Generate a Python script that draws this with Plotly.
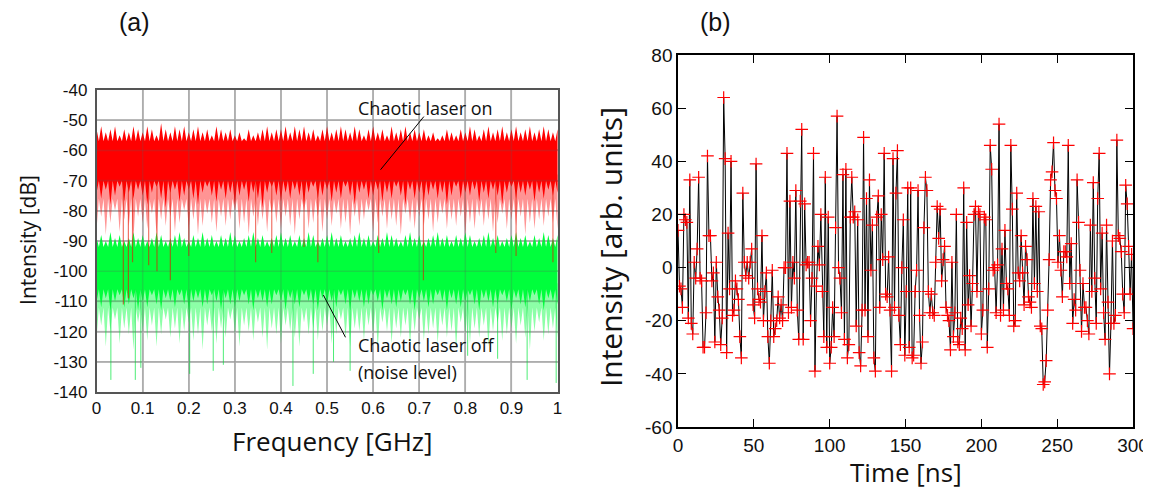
import plotly.graph_objects as go

# ---------------- Panel (a): spectrum envelopes ----------------
freq_step = 0.01  # GHz, sampling of envelope readings
red_hi = [-53,-52,-54,-53,-52,-55,-53,-54,-52,-53,
 -54,-52,-53,-55,-51,-53,-54,-52,-53,-52,
 -54,-53,-52,-54,-53,-55,-52,-53,-54,-53,
 -55,-54,-56,-53,-55,-54,-53,-52,-54,-53,
 -53,-52,-54,-52,-53,-52,-54,-53,-55,-53,
 -52,-54,-53,-52,-53,-54,-52,-53,-55,-53,
 -52,-54,-53,-55,-52,-54,-53,-52,-54,-53,
 -54,-53,-55,-54,-56,-55,-53,-54,-55,-53,
 -54,-52,-53,-55,-53,-52,-54,-53,-52,-54,
 -53,-52,-54,-53,-52,-54,-53,-52,-53,-54,-53]
red_mid = [-74,-76,-73,-78,-75,-72,-77,-74,-76,-73,
 -75,-78,-74,-72,-76,-79,-74,-73,-77,-75,
 -73,-76,-78,-74,-72,-75,-77,-73,-76,-74,
 -78,-75,-73,-77,-74,-76,-79,-74,-72,-75,
 -77,-74,-76,-73,-75,-78,-74,-72,-76,-75,
 -73,-77,-74,-76,-72,-75,-78,-74,-73,-76,
 -75,-73,-77,-74,-76,-72,-75,-78,-73,-76,
 -74,-77,-75,-73,-76,-74,-78,-75,-72,-76,
 -74,-75,-73,-77,-74,-76,-73,-75,-78,-74,
 -72,-76,-74,-75,-73,-77,-74,-76,-73,-75,-74]
red_lo = [-86,-82,-88,-84,-80,-87,-83,-85,-89,-82,
 -84,-86,-81,-88,-83,-85,-82,-87,-84,-80,
 -86,-83,-88,-85,-81,-84,-87,-82,-85,-83,
 -80,-86,-84,-88,-82,-85,-83,-87,-81,-84,
 -86,-82,-85,-88,-83,-80,-86,-84,-82,-87,
 -83,-85,-81,-86,-84,-88,-82,-85,-83,-80,
 -87,-84,-82,-86,-83,-85,-88,-81,-84,-86,
 -82,-85,-83,-87,-84,-81,-86,-83,-85,-82,
 -88,-84,-86,-82,-85,-83,-87,-84,-81,-86,
 -83,-85,-82,-88,-84,-86,-83,-85,-82,-84,-86]
green_hi = [-89,-88,-90,-87,-89,-88,-90,-89,-87,-89,
 -88,-90,-89,-87,-88,-90,-89,-88,-87,-89,
 -90,-88,-89,-87,-89,-88,-90,-88,-89,-87,
 -88,-90,-89,-88,-87,-89,-88,-90,-89,-88,
 -87,-89,-88,-90,-88,-89,-87,-88,-90,-89,
 -88,-87,-89,-88,-90,-89,-88,-87,-89,-88,
 -90,-88,-89,-87,-88,-89,-90,-88,-87,-89,
 -88,-90,-89,-88,-87,-89,-88,-90,-88,-89,
 -87,-88,-90,-89,-88,-87,-89,-88,-90,-89,
 -88,-87,-89,-88,-90,-88,-89,-87,-88,-89,-88]
green_mid = [-110,-112,-109,-113,-110,-108,-112,-111,-109,-113,
 -110,-112,-108,-111,-113,-109,-110,-112,-108,-111,
 -113,-110,-109,-112,-111,-108,-110,-113,-109,-111,
 -112,-110,-108,-111,-113,-109,-110,-112,-111,-108,
 -110,-113,-109,-111,-112,-108,-110,-111,-113,-109,
 -111,-110,-112,-108,-111,-113,-109,-110,-112,-111,
 -108,-110,-113,-109,-111,-112,-110,-108,-111,-113,
 -109,-110,-112,-111,-108,-110,-113,-109,-111,-112,
 -110,-108,-111,-113,-109,-110,-112,-111,-108,-110,
 -113,-109,-111,-112,-110,-108,-111,-113,-109,-110,-111]
green_lo = [-122,-118,-125,-120,-116,-124,-119,-121,-126,-117,
 -120,-123,-118,-125,-121,-116,-122,-119,-124,-120,
 -117,-123,-121,-126,-118,-120,-124,-119,-122,-116,
 -121,-125,-118,-120,-123,-117,-122,-126,-119,-121,
 -124,-118,-120,-122,-125,-117,-121,-119,-123,-120,
 -118,-124,-121,-116,-122,-125,-119,-120,-123,-118,
 -121,-126,-117,-120,-124,-119,-122,-118,-125,-120,
 -116,-123,-121,-119,-124,-118,-122,-120,-126,-117,
 -121,-124,-119,-122,-118,-125,-120,-117,-123,-121,
 -119,-124,-118,-122,-126,-120,-117,-123,-121,-119,-122]
# band body levels (dB)
red_top_base, red_bot_base, red_pink_base = -57, -70, -76
green_top_base, green_bot_base, green_light_base = -92, -106, -112
# deep isolated dips
red_spike_f = [0.058, 0.069, 0.078, 0.113, 0.131, 0.160, 0.200, 0.345, 0.380, 0.450, 0.480, 0.612, 0.709, 0.866, 0.910, 0.990]
red_spike_db = [-111, -109, -97, -98, -100, -103, -95, -97, -94, -92, -97, -94, -103, -94, -95, -97]
green_spike_f = [0.031, 0.084, 0.096, 0.202, 0.253, 0.275, 0.426, 0.470, 0.514, 0.550, 0.805, 0.870, 0.934, 0.997]
green_spike_db = [-136, -136, -132, -134, -133, -131, -138, -134, -130, -133, -128, -129, -136, -137]

# ---------------- Panel (b): time series ----------------
intensity_b = [
 14, -7, -8, -15, 20, 18, 17, -19, 33, -21, -25, 2, -4, 7, 34, -4, -5, -30, -30, -17, 42, 12, 12, -5, -2, -28, 2, -11, -16, -29, -19, 64, 41, -32, 13, -8, 40, -18,
 -16, -5, -8, -12, -26, -34, 28, 2, -3, 2, -4, 2, 7, -14, -19, 39, -8, -12, -13, 12, -20, -9, -2, -26, -36, -20, -1, -26, -23, -20, -11, -19, -14, -20, 0, 0, 43, -17, 25, -15, 2,
 -4, 29, -16, -27, 25, 52, -27, 24, 1, 2, 2, -20, -4, 43, -39, -7, 8, 1, 20, -9, -26, 34, -30, 19, -36, -30, -15, -26, 15, 57, 0, -4, -17, 35, -27, 37, -34, -29, 19,
 34, 19, 21, -22, 18, -32, -37, -16, 49, -16, 26, -26, 33, -1, 16, -34, -39, 19, 27, -15, 20, 3, 43, -10, -11, 4, -16, -39, 41, -15, 28, 44, -18, -29, 0, 18, -33, -9, 30,
 -30, 30, -34, -33, -9, -1, 29, -18, -36, -28, 15, 34, 29, -9, -17, -10, -17, -18, 2, 23, 11, 22, -5, 3, 8, -15, -18, -20, -31, 2, -26, -17, 20, -28, -29, -19, -23, 30, -31, 17,
 -14, -3, -22, -6, 20, 23, -9, 21, 20, -25, -16, 19, 18, -30, -8, 46, 37, -1, 0, -17, 1, 54, -18, 7, -16, 14, -6, -8, -18, 46, 22, -22, -20, 28, -2, -5, 12, -2, -14, 8,
 3, -11, -13, -15, 26, -6, 23, -9, 21, -22, -23, -44, -43, -35, -16, 3, 33, 36, 47, 29, 26, 2, 12, -1, -11, 6, 6, 4, 46, -6, 9, -21, -12, -16, 33, 17, -1, -24, -6, -15,
 -15, -20, -25, 16, -9, 32, -4, -21, 26, 43, -8, 13, -17, -27, 16, -13, -40, -21, 10, -21, -18, 48, 12, 11, 6, -10, -17, 31, 24, 8, -10, 5, -23]
time_span_ns = 300
n_b = len(intensity_b)
time_b = [time_span_ns * i / (n_b - 1) for i in range(n_b)]

freq_ticks = [0, 0.1, 0.2, 0.3, 0.4, 0.5, 0.6, 0.7, 0.8, 0.9, 1]
freq_ticklabels = ["0", "0.1", "0.2", "0.3", "0.4", "0.5", "0.6", "0.7", "0.8", "0.9", "1"]
db_ticks = [-140, -130, -120, -110, -100, -90, -80, -70, -60, -50, -40]
db_ticklabels = ["-140", "-130", "-120", "-110", "-100", "-90", "-80", "-70", "-60", "-50", "-40"]
time_ticks = [0, 50, 100, 150, 200, 250, 300]
int_ticks = [-60, -40, -20, 0, 20, 40, 60, 80]
int_ticklabels = ["-60", "-40", "-20", "0", "20", "40", "60", "80"]

# ---------------- helpers ----------------
def comb_band(tips_top, base_top, tips_bot, base_bot):
    n = len(tips_top)
    fs = [i * freq_step for i in range(n)]
    xs, ys = [], []
    for f, v in zip(fs, tips_top):
        xs += [f, f + freq_step / 2]
        ys += [v, base_top]
    for f, v in reversed(list(zip(fs, tips_bot))):
        xs += [f + freq_step / 2, f]
        ys += [base_bot, v]
    return xs, ys

def flat_top_comb(level, tips_bot, base_bot):
    n = len(tips_bot)
    fs = [i * freq_step for i in range(n)]
    xs = [fs[0], fs[-1] + freq_step]
    ys = [level, level]
    for f, v in reversed(list(zip(fs, tips_bot))):
        xs += [f + freq_step / 2, f]
        ys += [base_bot, v]
    return xs, ys

def spikes(fs, vals, start):
    xs, ys = [], []
    for f, v in zip(fs, vals):
        xs += [f, f, None]
        ys += [start, v, None]
    return xs, ys

fig = go.Figure()
RED = "#ff0000"
GREEN = "#00ff3c"

gx, gy = flat_top_comb(green_bot_base + 2, green_lo, green_light_base)
fig.add_trace(go.Scatter(x=gx, y=gy, fill="toself", mode="lines", line=dict(width=0),
                         fillcolor="rgba(0,255,60,0.45)", hoverinfo="skip", showlegend=False))
gx, gy = comb_band(green_hi, green_top_base, green_mid, green_bot_base)
fig.add_trace(go.Scatter(x=gx, y=gy, fill="toself", mode="lines", line=dict(width=0),
                         fillcolor=GREEN, hoverinfo="skip", showlegend=False))
sx, sy = spikes(green_spike_f, green_spike_db, green_bot_base)
fig.add_trace(go.Scatter(x=sx, y=sy, mode="lines", line=dict(width=1, color="rgba(0,230,60,0.7)"),
                         hoverinfo="skip", showlegend=False))
rx, ry = flat_top_comb(red_bot_base + 2, red_lo, red_pink_base)
fig.add_trace(go.Scatter(x=rx, y=ry, fill="toself", mode="lines", line=dict(width=0),
                         fillcolor="rgba(255,0,0,0.42)", hoverinfo="skip", showlegend=False))
rx, ry = comb_band(red_hi, red_top_base, red_mid, red_bot_base)
fig.add_trace(go.Scatter(x=rx, y=ry, fill="toself", mode="lines", line=dict(width=0),
                         fillcolor=RED, hoverinfo="skip", showlegend=False))
sx, sy = spikes(red_spike_f, red_spike_db, red_bot_base)
fig.add_trace(go.Scatter(x=sx, y=sy, mode="lines", line=dict(width=1.2, color="rgba(230,20,0,0.6)"),
                         hoverinfo="skip", showlegend=False))

fig.add_trace(go.Scatter(x=time_b, y=intensity_b, mode="lines+markers", xaxis="x2", yaxis="y2",
                         line=dict(color="black", width=1),
                         marker=dict(symbol="cross-thin", size=9, line=dict(color="red", width=1.2), color="red"),
                         hoverinfo="skip", showlegend=False))

TICKFONT_A = dict(family="Liberation Sans, Arial", size=17, color="#111")
TICKFONT_B = dict(family="Liberation Sans, Arial", size=19, color="#111")
TITLEFONT_AY = dict(family="Open Sans, Noto Sans", size=21, color="#111")
TITLEFONT_AX = dict(family="Open Sans, Noto Sans", size=26, color="#111")
TITLEFONT_BY = dict(family="Open Sans, Noto Sans", size=30, color="#111")
TITLEFONT_BX = dict(family="Open Sans, Noto Sans", size=26, color="#111")

# page body has an 8px margin: figure is 1143x483, placed at (8,8)
AX_DOM_X = [0.0775, 0.4808]
AX_DOM_Y = [0.2050, 0.8302]
BX_DOM_X = [0.5862, 0.9843]
BX_DOM_Y = [0.1325, 0.9027]

fig.update_layout(
    width=1143, height=483, margin=dict(l=0, r=0, t=0, b=0, autoexpand=False),
    paper_bgcolor="white", plot_bgcolor="white",
    xaxis=dict(domain=AX_DOM_X, range=[0, 1], tickvals=freq_ticks, ticktext=freq_ticklabels,
               showgrid=True, gridcolor="#c4c4c4", gridwidth=2, zeroline=False,
               showline=True, linecolor="#555", linewidth=1.5, mirror=True, ticks="",
               tickfont=TICKFONT_A, anchor="y", automargin=False),
    yaxis=dict(domain=AX_DOM_Y, range=[-140, -40], tickvals=db_ticks, ticktext=db_ticklabels,
               showgrid=True, gridcolor="#c4c4c4", gridwidth=2, zeroline=False,
               showline=True, linecolor="#555", linewidth=1.5, mirror=True, ticks="",
               tickfont=TICKFONT_A, anchor="x", automargin=False, ticklabelstandoff=4),
    xaxis2=dict(domain=BX_DOM_X, range=[0, 300], tickvals=time_ticks,
                showgrid=False, zeroline=False, showline=True, linecolor="black", linewidth=1.5,
                mirror="ticks", ticks="inside", ticklen=8, tickcolor="black",
                tickfont=TICKFONT_B, anchor="y2", automargin=False),
    yaxis2=dict(domain=BX_DOM_Y, range=[-60, 80], tickvals=int_ticks, ticktext=int_ticklabels,
                showgrid=False, zeroline=False, showline=True, linecolor="black", linewidth=1.5,
                mirror="ticks", ticks="inside", ticklen=8, tickcolor="black",
                tickfont=TICKFONT_B, anchor="x2", automargin=False),
)

shapes = []
for f in freq_ticks[1:-1]:
    shapes.append(dict(type="line", xref="x", yref="paper", x0=f, x1=f, y0=AX_DOM_Y[0], y1=AX_DOM_Y[1],
                       line=dict(color="rgba(90,90,90,0.22)", width=1.5), layer="above"))
for d in db_ticks[1:-1]:
    shapes.append(dict(type="line", xref="paper", yref="y", x0=AX_DOM_X[0], x1=AX_DOM_X[1], y0=d, y1=d,
                       line=dict(color="rgba(90,90,90,0.22)", width=1.5), layer="above"))
shapes.append(dict(type="line", xref="x", yref="y", x0=0.71, y0=-48.8, x1=0.616, y1=-66.4,
                   line=dict(color="black", width=1), layer="above"))
shapes.append(dict(type="line", xref="x", yref="y", x0=0.54, y0=-121.9, x1=0.492, y1=-107.9,
                   line=dict(color="black", width=1), layer="above"))
fig.update_layout(shapes=shapes)

LABELFONT = dict(family="Open Sans, Noto Sans", size=18, color="#111")
annos = [
    dict(text="Chaotic laser on", x=0.562, y=-45.8, xref="x", yref="y", xanchor="left", yanchor="middle",
         showarrow=False, font=LABELFONT),
    dict(text="Chaotic laser off", x=0.562, y=-124.5, xref="x", yref="y", xanchor="left", yanchor="middle",
         showarrow=False, font=LABELFONT),
    dict(text="(noise level)", x=0.562, y=-133.5, xref="x", yref="y", xanchor="left", yanchor="middle",
         showarrow=False, font=LABELFONT),
    dict(text="Intensity [dB]", x=0.0175, y=0.5197, xref="paper", yref="paper", textangle=-90,
         showarrow=False, font=TITLEFONT_AY, xanchor="center", yanchor="middle"),
    dict(text="Frequency [GHz]", x=0.2835, y=0.1035, xref="paper", yref="paper",
         showarrow=False, font=TITLEFONT_AX, xanchor="center", yanchor="middle"),
    dict(text="Intensity [arb. units]", x=0.5267, y=0.505, xref="paper", yref="paper", textangle=-90,
         showarrow=False, font=TITLEFONT_BY, xanchor="center", yanchor="middle"),
    dict(text="Time [ns]", x=0.7857, y=0.04, xref="paper", yref="paper",
         showarrow=False, font=TITLEFONT_BX, xanchor="center", yanchor="middle"),
    dict(text="(a)", x=0.1111, y=0.971, xref="paper", yref="paper",
         showarrow=False, font=dict(family="Liberation Sans, Arial", size=25, color="#111"),
         xanchor="center", yanchor="middle"),
    dict(text="(b)", x=0.6194, y=0.971, xref="paper", yref="paper",
         showarrow=False, font=dict(family="Liberation Sans, Arial", size=25, color="#111"),
         xanchor="center", yanchor="middle"),
]
fig.update_layout(annotations=annos)

fig.write_html("out.html")
